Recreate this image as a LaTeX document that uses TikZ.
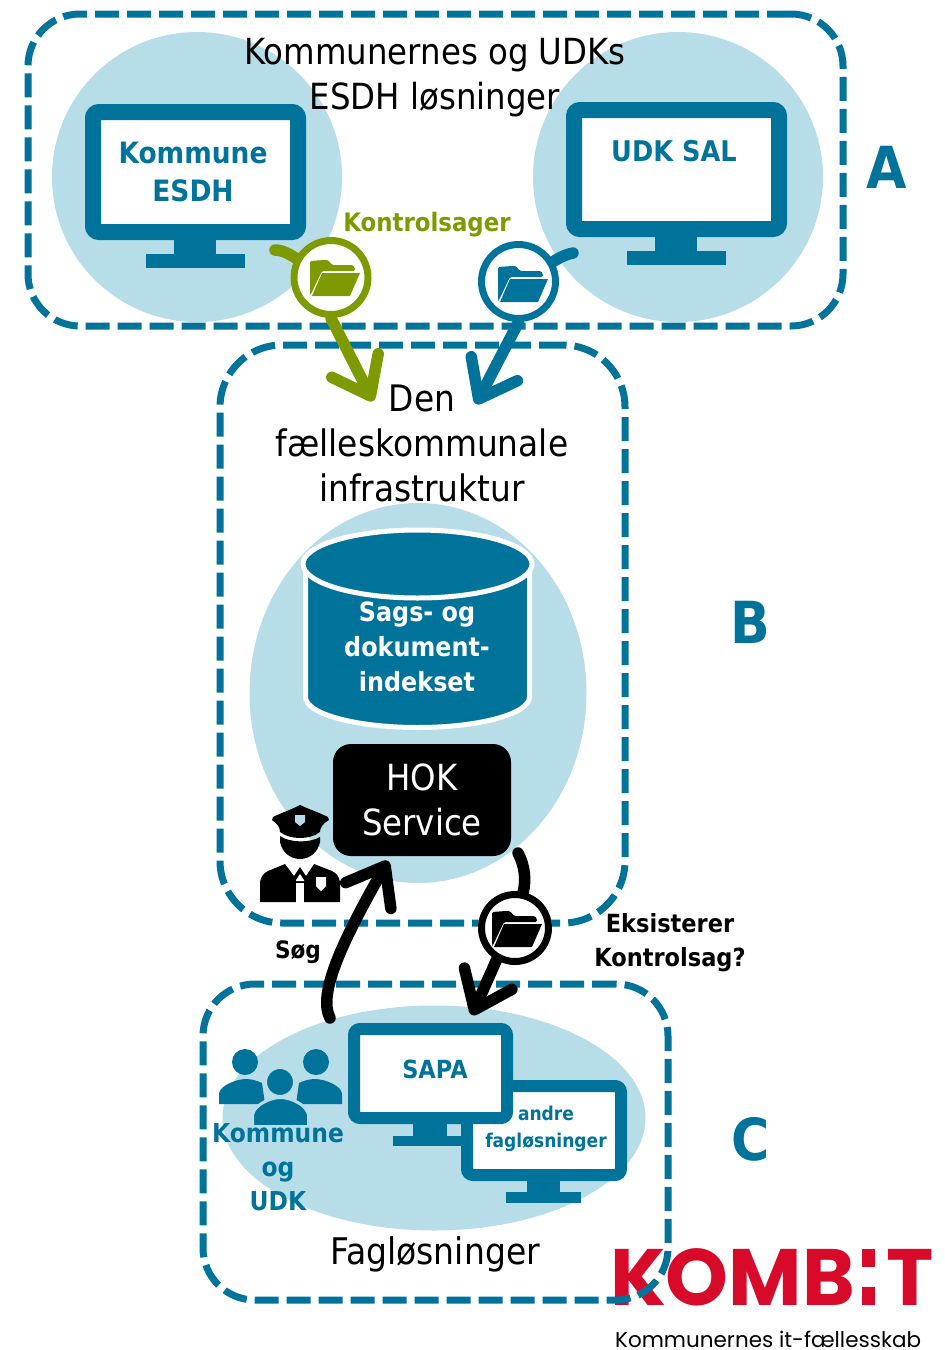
\documentclass[tikz,border=0pt]{standalone}
\usepackage{fontspec}
\usetikzlibrary{arrows.meta,shapes.geometric}
\setmainfont{DejaVu Sans}[FakeStretch=0.9]
\newfontfamily\logofont{Poppins}
\definecolor{kblue}{HTML}{00739B}
\definecolor{klight}{HTML}{B7DDE9}
\definecolor{kolive}{HTML}{7D9B00}
\definecolor{kred}{HTML}{D70A2A}
\newcommand{\fsz}[2]{\fontsize{#1}{#2}\selectfont}
\tikzset{
  dashbox/.style={draw=kblue,line width=7pt,dash pattern=on 24pt off 8pt,rectangle,inner sep=0pt},
  blob/.style={fill=klight,circle,inner sep=0pt},
  blobe/.style={fill=klight,ellipse,inner sep=0pt},
  screen/.style={draw=kblue,fill=white,rectangle,rounded corners=6pt,inner sep=0pt},
  disc/.style={circle,fill=white,inner sep=0pt,minimum size=#1},
  lab/.style={align=center,inner sep=0pt,text=black},
  lblue/.style={align=center,inner sep=0pt,text=kblue},
  wire/.style={line width=11.5pt,line cap=round},
  wirehead/.style={wire,-{Straight Barb[length=34pt,width=52pt,round]}},
  pics/folder/.style={code={
    \fill[#1,rounded corners=1.5pt] (-25,-17) -- (-11,-18) -- (-7,-18) -- (-3,-13) -- (18,-13) -- (20,-10) -- (20,-7) -- (-13,-7) -- (-24,16) -- (-25,17) -- cycle;
    \fill[#1] (-13,-5) -- (25,-5) -- (15,18) -- (-23,18) -- cycle;
  }}
}
\begin{document}
\begin{tikzpicture}[x=1pt,y=-1pt]
\useasboundingbox (0,0) rectangle (945,1350);
\fill[white] (0,0) rectangle (945,1350);

% logo
\node[anchor=base west,inner sep=0pt,text=kred] (logoa) at (610,1305) {\logofont\bfseries\fontsize{80}{80}\selectfont KOMB};
\node[anchor=base west,inner sep=0pt,text=kred] (logob) at (886,1305) {\logofont\bfseries\fontsize{80}{80}\selectfont T};
\fill[kred] (862,1249) rectangle (875,1267);
\fill[kred] (862,1287) rectangle (875,1305);
\node[anchor=base west,inner sep=0pt] (logot) at (615,1347) {\logofont\fontsize{21.5}{22}\selectfont Kommunernes it-fællesskab};

% blobs
\node[blob,minimum size=290pt] (bla) at (197,177) {};
\node[blob,minimum size=290pt] (blb) at (678,177) {};
\node[blobe,minimum width=337pt,minimum height=380pt] (blc) at (418,693) {};
\node[blobe,minimum width=423pt,minimum height=225pt] (bld) at (434,1118) {};

% dashed frames
\node[dashbox,rounded corners=52pt,minimum width=815pt,minimum height=312pt] (boxa) at (435.5,170) {};
\node[dashbox,rounded corners=62pt,minimum width=405pt,minimum height=578pt] (boxb) at (422.5,634) {};
\node[dashbox,rounded corners=52pt,minimum width=465pt,minimum height=316pt] (boxc) at (435.5,1142) {};

% monitor left
\fill[kblue] (174,236) rectangle (216,256);
\fill[kblue] (146,254) rectangle (245,268);
\node[screen,line width=16pt,minimum width=205pt,minimum height=120pt] (mona) at (195.5,172) {};
% monitor right
\fill[kblue] (655,233) rectangle (697,253);
\fill[kblue] (627,251) rectangle (726,265);
\node[screen,line width=16pt,minimum width=205pt,minimum height=119pt] (monb) at (676.5,169.5) {};

% cylinder
\path[fill=kblue,draw=white,line width=5pt] (305.5,563) -- (305.5,697) arc[start angle=180,end angle=0,x radius=112,y radius=30.5] -- (529.5,563) arc[start angle=0,end angle=-180,x radius=112,y radius=30.5] -- cycle;
\node[ellipse,fill=kblue,draw=white,line width=5pt,inner sep=0pt,minimum width=229pt,minimum height=68pt] (lid) at (417.5,564) {};

% HOK
\node[fill=black,rounded corners=18pt,minimum width=178pt,minimum height=112pt,inner sep=0pt,align=center,text=white,font=\fsz{36}{45}] (hok) at (422,800) {HOK\\Service};

% police
\begin{scope}
\fill[black] (300,805) .. controls (306,808) and (320,813) .. (328,817) -- (329,820) .. controls (322,824) and (320,828) .. (320,832) .. controls (310,840) and (290,840) .. (280,832) .. controls (280,828) and (278,824) .. (272,820) -- (273,817) .. controls (281,813) and (295,808) .. (300,805) -- cycle;
\fill[klight] (295,815) -- (305,815) -- (305,822) -- (300,826) -- (295,822) -- cycle;
\fill[black] (280,836) .. controls (290,843) and (310,843) .. (320,837) -- (320,842) .. controls (318,852) and (310,859) .. (300,859) .. controls (290,859) and (282,852) .. (280,842) -- cycle;
\fill[black] (260,902) -- (260,882) .. controls (261,876) and (264,873) .. (268,871) -- (285,864) -- (294,876) -- (300,867) -- (306,876) -- (314,864) -- (332,871) .. controls (336,873) and (339,876) .. (340,882) -- (340,902) -- cycle;
\fill[white] (296,883) rectangle (304,903);
\fill[white] (296,880) -- (300,874) -- (304,880) -- (304,881) -- (296,881) -- cycle;
\fill[white] (316,877) -- (326,877) -- (326,886) -- (321,891) -- (316,886) -- cycle;
\end{scope}

% C group monitors
\fill[kblue] (527,1178) rectangle (560,1194);
\fill[kblue] (506,1192) rectangle (581,1203);
\node[screen,line width=12pt,minimum width=154pt,minimum height=89pt] (mond) at (544,1130.5) {};
\fill[kblue] (413,1120) rectangle (447,1138);
\fill[kblue] (393,1136) rectangle (461,1146);
\node[screen,line width=12pt,minimum width=153pt,minimum height=89pt] (monc) at (430.5,1073.5) {};

% people
\fill[kblue] (245,1062) circle[radius=13];
\fill[kblue] (316,1062) circle[radius=13];
\fill[kblue] (219,1104) -- (219,1094) .. controls (219,1086) and (236,1079) .. (246,1079) .. controls (252,1079) and (258,1081) .. (262,1083) -- (265,1104) -- cycle;
\fill[kblue] (342,1104) -- (342,1094) .. controls (342,1086) and (325,1079) .. (315,1079) .. controls (309,1079) and (303,1081) .. (299,1083) -- (296,1104) -- cycle;
\fill[kblue,draw=klight,line width=3pt] (280,1082) circle[radius=14.5];
\fill[kblue,draw=klight,line width=3pt] (252.5,1126.5) -- (252.5,1115) .. controls (254,1105) and (270,1097.5) .. (280.5,1097.5) .. controls (291,1097.5) and (307,1105) .. (308.5,1115) -- (308.5,1126.5) -- cycle;

% connectors
\node[disc=81pt] (fo) at (331,277.5) {};
\node[disc=81pt] (fb) at (518.5,281.5) {};
\node[disc=74pt] (fk) at (515,928) {};
\coordinate (sto) at (275,250);
\coordinate (stb) at (573,253);
\coordinate (stk) at (518,853);
\coordinate (tipo) at (373,401);
\coordinate (tipb) at (476,404);
\coordinate (tipk) at (472,1015);
\coordinate (sog) at (330,1018);
\coordinate (tiph) at (388,861);

\draw[kolive,wire] (sto) .. controls (284,250) and (292,256) .. (fo);
\draw[kblue,wire] (stb) .. controls (563,255) and (556,260) .. (fb);
\draw[black,wire] (stk) .. controls (525,866) and (526,880) .. (fk);
\draw[kolive,wirehead] (fo.south) -- (tipo);
\draw[kblue,wirehead] (fb.south) -- (tipb);
\draw[black,wirehead] (fk.240) -- (tipk);
\draw[black,wirehead] (sog) .. controls (318,995) and (340,945) .. (tiph);

\node[disc=74pt,draw=kolive,line width=7pt] (foc) at (fo) {};
\node[disc=74pt,draw=kblue,line width=7pt] (fbc) at (fb) {};
\node[disc=67pt,draw=black,line width=7pt] (fkc) at (fk) {};
\pic at (335,278) {folder=kolive};
\pic at (523,284) {folder=kblue};
\pic at (517,929) {folder=black};

% text
\node[lab,font=\fsz{36}{45}] (t1) at (435,78) {Kommunernes og UDKs\\ESDH løsninger};
\node[lab,font=\fsz{36.5}{45}] (t2) at (422,443) {Den\\fælleskommunale\\infrastruktur};
\node[lab,font=\fsz{36.7}{45}] (t3) at (435,1254) {Fagløsninger};
\node[lblue,font=\bfseries\fsz{29.4}{38}] (t4) at (193,172) {Kommune\\ESDH};
\node[lblue,font=\bfseries\fsz{28.5}{38}] (t5) at (674,151) {UDK SAL};
\node[align=center,inner sep=0pt,text=kolive,font=\bfseries\fsz{25.4}{30}] (t6) at (427,225) {Kontrolsager};
\node[align=center,inner sep=0pt,text=white,font=\bfseries\fsz{26.5}{35}] (t7) at (417,647) {Sags- og\\dokument-\\indekset};
\node[lblue,font=\bfseries\fsz{25}{30}] (t8) at (435,1069) {SAPA};
\node[lblue,font=\bfseries\fsz{19}{27}] (t9) at (546,1129) {andre\\fagløsninger};
\node[lblue,font=\bfseries\fsz{26}{34}] (t10) at (278,1167) {Kommune\\og\\UDK};
\node[lab,font=\bfseries\fsz{24}{28}] (t11) at (298,952) {Søg};
\node[lab,font=\bfseries\fsz{25}{34}] (t12) at (670,943) {Eksisterer\\Kontrolsag?};
\node[lblue,font=\bfseries\fsz{58}{60}] (a) at (887,167) {A};
\node[lblue,font=\bfseries\fsz{58}{60}] (b) at (750,622) {B};
\node[lblue,font=\bfseries\fsz{58}{60}] (c) at (751,1139) {C};
\end{tikzpicture}
\end{document}
